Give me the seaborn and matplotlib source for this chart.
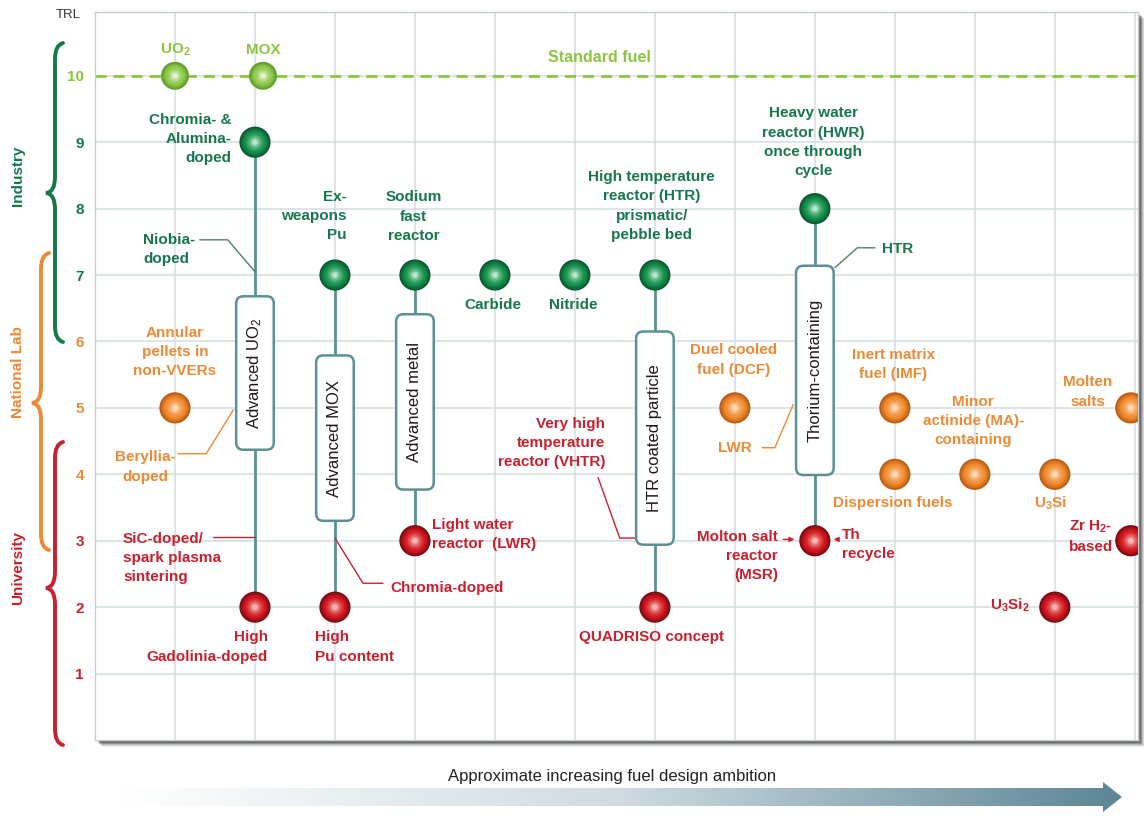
import numpy as np
import pandas as pd
import matplotlib
matplotlib.use("Agg")
import matplotlib.pyplot as plt
import seaborn as sns
from matplotlib.path import Path
from matplotlib.patches import PathPatch, FancyBboxPatch, Rectangle, Polygon
from matplotlib.colors import LinearSegmentedColormap, to_rgb

# ---------------- data ----------------
trl_levels = [1, 2, 3, 4, 5, 6, 7, 8, 9, 10]
fuel_names = ["UO2", "MOX", "Chromia- & Alumina-doped", "Ex-weapons Pu",
              "Sodium fast reactor", "Carbide", "Nitride", "HTR prismatic/pebble bed",
              "HWR once through cycle",
              "Annular pellets", "DCF", "IMF", "Dispersion fuels", "Minor actinide",
              "U3Si", "Molten salts",
              "High Gadolinia-doped", "High Pu content", "LWR", "QUADRISO",
              "MSR", "U3Si2", "ZrH2-based"]
fuel_x = [1, 2.1, 2, 3, 4, 5, 6, 7, 9,
          1, 8, 10, 10, 11, 12, 12.95,
          2, 3, 4, 7, 9, 12, 12.95]
fuel_trl = [10, 10, 9, 7, 7, 7, 7, 7, 8,
            5, 5, 5, 4, 4, 4, 5,
            2, 2, 3, 2, 3, 2, 3]
fuel_group = (["Standard"] * 2 + ["Industry"] * 7 + ["National Lab"] * 7
              + ["University"] * 7)

stem_x = [2, 3, 4, 7, 9]
stem_top = [9, 7, 7, 7, 8]
stem_bottom = [2, 2, 3, 2, 3]

box_labels = ["Advanced UO$_2$", "Advanced MOX", "Advanced metal",
              "HTR coated particle", "Thorium-containing"]
box_x = [2, 3, 4, 7, 9]
box_top = [6.68, 5.79, 6.41, 6.15, 7.14]
box_bottom = [4.37, 3.30, 3.77, 2.94, 3.99]

standard_trl = 10
x_axis_label = "Approximate increasing fuel design ambition"

# ---------------- style ----------------
sns.set_theme(style="white")
plt.rcParams["font.family"] = ["Liberation Sans", "DejaVu Sans"]
plt.rcParams["mathtext.default"] = "regular"

LG = "#8cc63f"
DG = "#17774c"
OR = "#ec8a35"
RD = "#c9202f"
STEM = "#5b9193"

group_edge = {"Standard": "#5f9d2a", "Industry": "#0a5a30",
              "National Lab": "#bb5c14", "University": "#7e0a10"}
group_base = {"Standard": "#8cc84a", "Industry": "#14904d",
              "National Lab": "#f0892c", "University": "#d3161f"}
group_high = {"Standard": "#e6f5d2", "Industry": "#b9e6c9",
              "National Lab": "#fddcb8", "University": "#f9b8b2"}

df = pd.DataFrame({"name": fuel_names, "x": fuel_x, "trl": fuel_trl,
                   "group": fuel_group})

fig = plt.figure(figsize=(11.44, 8.27), dpi=100)

# background overlay in pixel coordinates
bg = fig.add_axes([0, 0, 1, 1], zorder=0)
bg.axis("off")

ax = fig.add_axes([95 / 1144, 87 / 827, 1043 / 1144, 728 / 827], zorder=2)
ax.set_xlim(0, 13.04)
ax.set_ylim(0, 10.96)
ax.set_facecolor("white")
ax.set_xticks(range(1, 14))
ax.set_yticks(trl_levels)
ax.set_axisbelow(True)
ax.grid(True, color="#d8e0e3", lw=1.2)
ax.tick_params(length=0, labelbottom=False, pad=8)
ax.set_yticklabels([str(v) for v in trl_levels], fontsize=11, fontweight="bold")
tick_cols = [RD, RD, RD, OR, OR, OR, DG, DG, DG, LG]
for lab, c in zip(ax.get_yticklabels(), tick_cols):
    lab.set_color(c)
for sp in ax.spines.values():
    sp.set_color("#c5cfd3")
    sp.set_linewidth(1)

# standard fuel line
ax.axhline(standard_trl, color=LG, lw=2, ls=(0, (4, 2.5)), zorder=2)

# stems
ax.vlines(stem_x, stem_bottom, stem_top, color=STEM, lw=2, zorder=3)

# boxes
bw = 0.47
for lab, bx, bt, bb in zip(box_labels, box_x, box_top, box_bottom):
    p = FancyBboxPatch((bx - bw / 2, bb), bw, bt - bb,
                       boxstyle="round,pad=0,rounding_size=0.09",
                       fc="white", ec=STEM, lw=1.8, zorder=4,
                       mutation_aspect=80 / 66.4)
    ax.add_patch(p)
    ax.text(bx, (bt + bb) / 2, lab, rotation=90, ha="center", va="center",
            fontsize=12, color="#1a1a1a", zorder=5)


# markers (glossy look via stacked layers)
def mix(c1, c2, t):
    a, b = np.array(to_rgb(c1)), np.array(to_rgb(c2))
    return tuple(a + (b - a) * t)


size_f = {"Standard": 0.8, "Industry": 1.0, "National Lab": 1.0, "University": 1.0}
n_layers = 9
for k in range(n_layers):
    t = k / (n_layers - 1)
    s = 490 * (1 - t) ** 1.6 + 14
    if t < 0.35:
        pal = {g: mix(group_edge[g], group_base[g], t / 0.35) for g in group_base}
    else:
        tt = ((t - 0.35) / 0.65) ** 1.5
        pal = {g: mix(group_base[g], group_high[g], tt) for g in group_base}
    sizes = {g: s * f for g, f in size_f.items()}
    sns.scatterplot(data=df, x="x", y="trl", hue="group", palette=pal,
                    size="group", sizes=sizes, linewidth=0, legend=False,
                    ax=ax, zorder=6 + k * 0.1)
ax.set_xlabel("")
ax.set_ylabel("")

# ---------------- labels ----------------
labels = [
    ("UO$_2$", 1.0, 10.39, LG, "center"),
    ("MOX", 2.1, 10.39, LG, "center"),
    ("Standard fuel", 6.31, 10.27, LG, "center"),
    ("Chromia- &\nAlumina-\ndoped", 1.71, 9.05, DG, "right"),
    ("Niobia-\ndoped", 0.6, 7.38, DG, "left"),
    ("Ex-\nweapons\nPu", 3.15, 7.89, DG, "right"),
    ("Sodium\nfast\nreactor", 3.98, 7.88, DG, "center"),
    ("Carbide", 4.98, 6.55, DG, "center"),
    ("Nitride", 5.98, 6.55, DG, "center"),
    ("High temperature\nreactor (HTR)\nprismatic/\npebble bed", 6.96, 8.04, DG, "center"),
    ("Heavy water\nreactor (HWR)\nonce through\ncycle", 8.98, 9.0, DG, "center"),
    ("HTR", 9.84, 7.39, DG, "left"),
    ("Annular\npellets in\nnon-VVERs", 1.0, 5.84, OR, "center"),
    ("Beryllia-\ndoped", 0.63, 4.11, OR, "center"),
    ("Duel cooled\nfuel (DCF)", 7.98, 5.72, OR, "center"),
    ("LWR", 8.0, 4.40, OR, "center"),
    ("Inert matrix\nfuel (IMF)", 9.98, 5.65, OR, "center"),
    ("Minor\nactinide (MA)-\ncontaining", 10.98, 4.8, OR, "center"),
    ("Dispersion fuels", 9.98, 3.57, OR, "center"),
    ("U$_3$Si", 11.94, 3.57, OR, "center"),
    ("Molten\nsalts", 12.41, 5.24, OR, "center"),
    ("SiC-doped/\nspark plasma\nsintering", 0.35, 2.74, RD, "left"),
    ("High\nGadolinia-doped", 2.16, 1.40, RD, "right"),
    ("High\nPu content", 2.75, 1.40, RD, "left"),
    ("Chromia-doped", 3.69, 2.29, RD, "left"),
    ("Light water\nreactor  (LWR)", 4.21, 3.09, RD, "left"),
    ("Very high\ntemperature\nreactor (VHTR)", 6.38, 4.47, RD, "right"),
    ("QUADRISO concept", 6.96, 1.55, RD, "center"),
    ("Molton salt\nreactor\n(MSR)", 8.54, 2.77, RD, "right"),
    ("Th\nrecycle", 9.34, 2.94, RD, "left"),
    ("U$_3$Si$_2$", 11.69, 2.03, RD, "right"),
    ("Zr H$_2$-\nbased", 12.18, 3.07, RD, "left"),
]
for txt, tx, ty, col, ha in labels:
    fs = 11.5 if txt == "Standard fuel" else 11
    ax.text(tx, ty, txt, color=col, ha=ha, va="center", multialignment=ha,
            fontsize=fs, fontweight="bold", linespacing=1.47, zorder=12)

leaders = [
    ([(1.31, 7.53), (1.66, 7.53), (2.0, 7.05)], "#4f7f70"),
    ([(1.04, 4.31), (1.39, 4.31), (1.73, 4.97)], OR),
    ([(1.48, 3.06), (2.0, 3.06)], RD),
    ([(3.0, 3.04), (3.35, 2.36), (3.6, 2.36)], RD),
    ([(6.29, 3.95), (6.56, 3.04), (6.76, 3.04)], RD),
    ([(8.34, 4.40), (8.5, 4.40), (8.73, 5.05)], OR),
    ([(9.75, 7.41), (9.53, 7.41), (9.25, 7.11)], "#4f7f70"),
]
for pts, col in leaders:
    xs, ys = zip(*pts)
    ax.plot(xs, ys, color=col, lw=1, zorder=3)

ax.annotate("", xy=(8.78, 3.02), xytext=(8.57, 3.02),
            arrowprops=dict(arrowstyle="-|>", color=RD, lw=1, mutation_scale=7),
            zorder=12)
ax.annotate("", xy=(9.2, 3.02), xytext=(9.33, 3.02),
            arrowprops=dict(arrowstyle="-|>", color=RD, lw=1, mutation_scale=7),
            zorder=12)

# ---------------- decorations in pixel space ----------------
# drop shadow
for off, a in [(7, 0.06), (6, 0.10), (5, 0.14), (4, 0.2), (3, 0.25)]:
    bg.add_patch(Rectangle((95 + off, 12 + off), 1043, 728, fc="black",
                           ec="none", alpha=a, zorder=1))


def brace(axh, x, ytop, ybot, ytip, depth, curl, color):
    r = 16
    verts = [(x + curl, ytop), (x, ytop + 2), (x, ytop + r),
             (x, ytip - r), (x, ytip - 1), (x - depth, ytip),
             (x, ytip + 1), (x, ytip + r),
             (x, ybot - r), (x, ybot - 2), (x + curl, ybot)]
    codes = [Path.MOVETO, Path.CURVE3, Path.CURVE3, Path.LINETO,
             Path.CURVE3, Path.CURVE3, Path.CURVE3, Path.CURVE3,
             Path.LINETO, Path.CURVE3, Path.CURVE3]
    axh.add_patch(PathPatch(Path(verts, codes), fc="none", ec=color, lw=2.8,
                            capstyle="round", zorder=3))


brace(bg, 55, 43, 342, 193, 9, 8, DG)
brace(bg, 41, 253, 550, 403, 9, 8, OR)
brace(bg, 55, 442, 745, 588, 9, 8, RD)
bg.text(18, 176, "Industry", rotation=90, ha="center", va="center",
        color=DG, fontsize=11, fontweight="bold")
bg.text(18, 372, "National Lab", rotation=90, ha="center", va="center",
        color=OR, fontsize=11, fontweight="bold")
bg.text(18, 568, "University", rotation=90, ha="center", va="center",
        color=RD, fontsize=11, fontweight="bold")
bg.text(68, 15, "TRL", ha="center", va="center", color="#333333", fontsize=9.5)

bg.text(612, 776, x_axis_label, ha="center", va="center", color="#222222",
        fontsize=12)

# gradient arrow
grad = np.linspace(0, 1, 512).reshape(1, -1)
cmap = LinearSegmentedColormap.from_list("g", ["#ffffff", "#cfdbe0", "#5b8595"])
im = bg.imshow(grad, extent=[118, 1124, 816, 779], cmap=cmap, aspect="auto",
               zorder=2)
arrow_poly = Polygon([(118, 788), (1103, 788), (1103, 782), (1122, 797),
                      (1103, 812), (1103, 806), (118, 806)], closed=True,
                     transform=bg.transData, fc="none", ec="none")
bg.add_patch(arrow_poly)
im.set_clip_path(arrow_poly)

bg.set_xlim(0, 1144)
bg.set_ylim(827, 0)

fig.savefig("out.png", dpi=100)
